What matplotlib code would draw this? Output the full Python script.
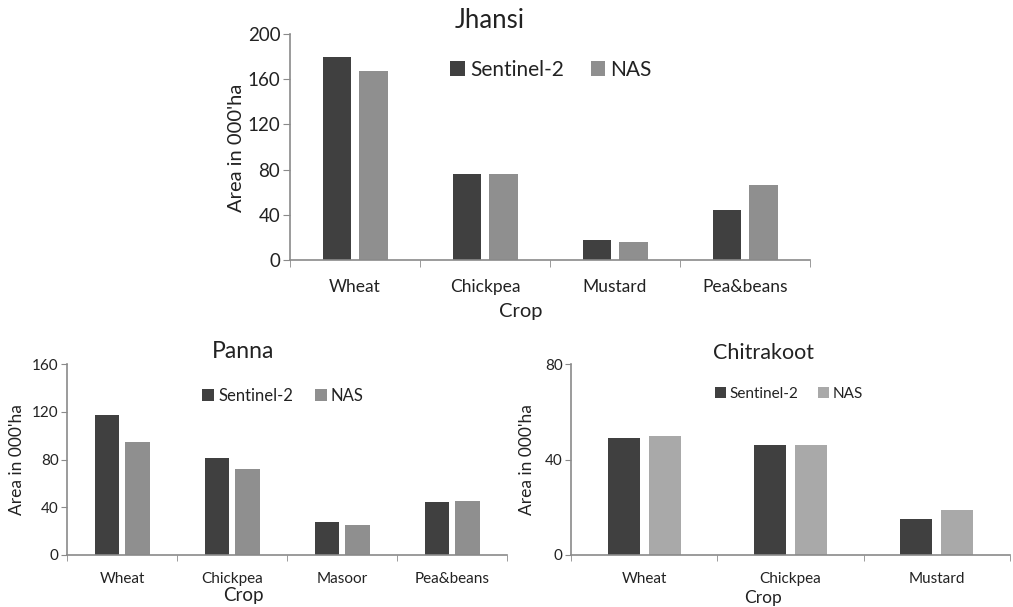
import matplotlib
matplotlib.use("Agg")
import matplotlib.pyplot as plt
import numpy as np

plt.rcParams['font.family'] = ['Lato', 'DejaVu Sans']

series_names = ["Sentinel-2", "NAS"]

jhansi_crops = ["Wheat", "Chickpea", "Mustard", "Pea&beans"]
jhansi_sentinel = [180, 76, 18, 44]
jhansi_nas = [167, 76, 16, 66]

panna_crops = ["Wheat", "Chickpea", "Masoor", "Pea&beans"]
panna_sentinel = [117, 81, 28, 44]
panna_nas = [95, 72, 25, 45]

chitra_crops = ["Wheat", "Chickpea", "Mustard"]
chitra_sentinel = [49, 46, 15]
chitra_nas = [50, 46, 19]

jhansi_yticks = [0, 40, 80, 120, 160, 200]
panna_yticks = [0, 40, 80, 120, 160]
chitra_yticks = [0, 40, 80]

W, H = 1013, 607
fig = plt.figure(figsize=(W / 100, H / 100), dpi=100)

def px_axes(l, r, t, b):
    return fig.add_axes([l / W, 1 - b / H, (r - l) / W, (b - t) / H])

DARK = "#404040"
SPINE = "#8a8a8a"
TXT = "#222222"

def draw(ax, crops, s, n, yticks, ncol, fs_tick, fs_ytick, xpad, legend_xy, legend_fs, title, title_xy, title_fs,
         ylab_xy, ylab_fs, xlab_xy, xlab_fs, ticklen):
    x = np.arange(len(crops))
    bw = 0.22
    gap = 0.06
    ax.bar(x - (bw + gap) / 2, s, bw, color=DARK, label=series_names[0])
    ax.bar(x + (bw + gap) / 2, n, bw, color=ncol, label=series_names[1])
    ax.set_xlim(-0.5, len(crops) - 0.5)
    ax.set_ylim(yticks[0], yticks[-1])
    ax.set_yticks(yticks)
    ax.set_xticks(x)
    ax.set_xticklabels(crops)
    ax.set_xticks(np.arange(len(crops) + 1) - 0.5, minor=True)
    ax.tick_params(axis='x', which='major', length=0, labelsize=fs_tick, colors=TXT, pad=xpad)
    ax.tick_params(axis='x', which='minor', length=ticklen, color=SPINE, direction='out')
    ax.tick_params(axis='y', length=ticklen, color=SPINE, labelsize=fs_ytick, labelcolor=TXT, pad=2)
    for sp in ['top', 'right']:
        ax.spines[sp].set_visible(False)
    for sp in ['left', 'bottom']:
        ax.spines[sp].set_color(SPINE)
        ax.spines[sp].set_linewidth(1.2)
    leg = ax.legend(loc='center', bbox_to_anchor=(legend_xy[0] / W, 1 - legend_xy[1] / H),
                    bbox_transform=fig.transFigure, ncol=2, frameon=False,
                    fontsize=legend_fs, handlelength=0.7, handleheight=0.7,
                    handletextpad=0.25, columnspacing=1.3, borderpad=0)
    for t in leg.get_texts():
        t.set_color(TXT)
    fig.text(title_xy[0] / W, 1 - title_xy[1] / H, title, ha='center', va='center',
             fontsize=title_fs, color=TXT)
    fig.text(ylab_xy[0] / W, 1 - ylab_xy[1] / H, "Area in 000'ha", ha='center', va='center',
             rotation=90, fontsize=ylab_fs, color=TXT)
    fig.text(xlab_xy[0] / W, 1 - xlab_xy[1] / H, "Crop", ha='center', va='center',
             fontsize=xlab_fs, color=TXT)

ax1 = px_axes(290, 810, 34, 260)
draw(ax1, jhansi_crops, jhansi_sentinel, jhansi_nas, jhansi_yticks, "#8f8f8f", 12.5, 13.5, 14,
     (551, 70), 15, "Jhansi", (490, 20), 18.5, (236, 148), 14.5, (521, 311), 14.5, 5)

ax2 = px_axes(67, 507, 364, 555)
draw(ax2, panna_crops, panna_sentinel, panna_nas, panna_yticks, "#8f8f8f", 11, 11, 12,
     (283, 396), 12, "Panna", (243, 352), 16.5, (17, 460), 12.5, (243, 596), 13.5, 4)

ax3 = px_axes(571, 1010, 364, 555)
draw(ax3, chitra_crops, chitra_sentinel, chitra_nas, chitra_yticks, "#a9a9a9", 11, 11, 12,
     (789, 394), 11, "Chitrakoot", (763, 353), 15.5, (527, 460), 12.5, (763, 598), 12.5, 4)

fig.savefig("out.png", dpi=100)
